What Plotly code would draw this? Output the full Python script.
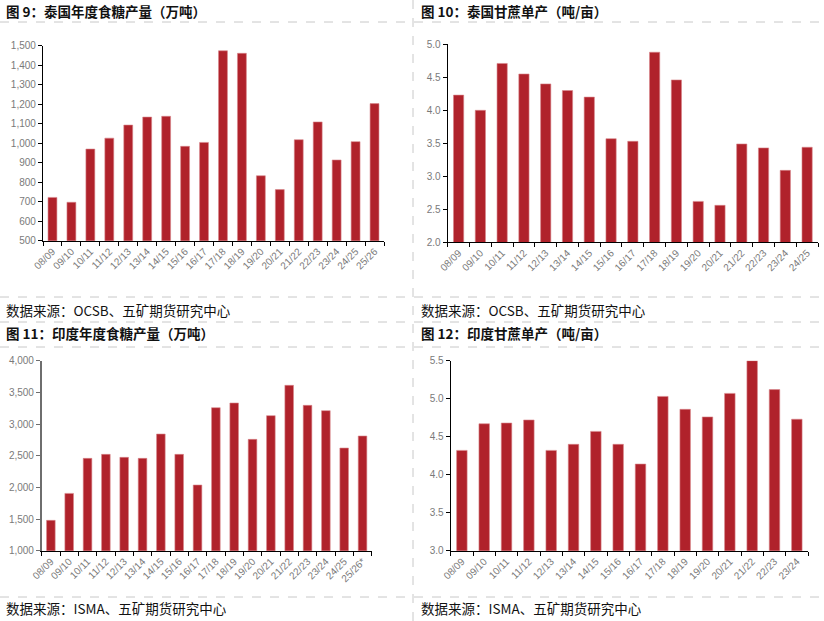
import plotly.graph_objects as go

W, H = 824, 621

# ---------------- data ----------------
th_sugar_seasons = ["08/09", "09/10", "10/11", "11/12", "12/13", "13/14", "14/15", "15/16", "16/17",
                    "17/18", "18/19", "19/20", "20/21", "21/22", "22/23", "23/24", "24/25", "25/26"]
th_sugar = [722, 697, 970, 1026, 1093, 1134, 1138, 984, 1004,
            1474, 1461, 833, 762, 1018, 1109, 914, 1008, 1203]

th_yield_seasons = ["08/09", "09/10", "10/11", "11/12", "12/13", "13/14", "14/15", "15/16", "16/17",
                    "17/18", "18/19", "19/20", "20/21", "21/22", "22/23", "23/24", "24/25"]
th_yield = [4.23, 4.00, 4.71, 4.55, 4.40, 4.30, 4.20, 3.57, 3.53,
            4.88, 4.46, 2.62, 2.56, 3.49, 3.43, 3.09, 3.44]

in_sugar_seasons = ["08/09", "09/10", "10/11", "11/12", "12/13", "13/14", "14/15", "15/16", "16/17",
                    "17/18", "18/19", "19/20", "20/21", "21/22", "22/23", "23/24", "24/25", "25/26*"]
in_sugar = [1479, 1905, 2458, 2521, 2474, 2458, 2842, 2521, 2037,
            3258, 3332, 2758, 3132, 3611, 3295, 3211, 2621, 2811]

in_yield_seasons = ["08/09", "09/10", "10/11", "11/12", "12/13", "13/14", "14/15", "15/16",
                    "16/17", "17/18", "18/19", "19/20", "20/21", "21/22", "22/23", "23/24"]
in_yield = [4.32, 4.67, 4.68, 4.72, 4.32, 4.40, 4.57, 4.40,
            4.14, 5.03, 4.86, 4.76, 5.07, 5.50, 5.12, 4.73]

titles = ["图 9：泰国年度食糖产量（万吨）", "图 10：泰国甘蔗单产（吨/亩）",
          "图 11：印度年度食糖产量（万吨）", "图 12：印度甘蔗单产（吨/亩）"]
sources = ["数据来源：OCSB、五矿期货研究中心", "数据来源：OCSB、五矿期货研究中心",
           "数据来源：ISMA、五矿期货研究中心", "数据来源：ISMA、五矿期货研究中心"]

y1_vals = list(range(500, 1501, 100))
y2_vals = [2.0, 2.5, 3.0, 3.5, 4.0, 4.5, 5.0]
y3_vals = list(range(1000, 4001, 500))
y4_vals = [3.0, 3.5, 4.0, 4.5, 5.0, 5.5]

# ---------------- style ----------------
BAR = "#B0222B"
TICKFONT = dict(family="Liberation Sans, Arial, sans-serif", size=10, color="#7a7a7a")
CJK = "Noto Sans CJK SC, sans-serif"
DASH = "#c8c8c8"


def xd(a, b):
    return [a / W, b / W]


def yd(top, bottom):
    return [1 - bottom / H, 1 - top / H]


panels = [
    dict(x=th_sugar_seasons, y=th_sugar, xdom=xd(43, 384), ydom=yd(45.7, 240.7),
         rng=[500, 1500], tv=y1_vals, tt=[f"{v:,}" for v in y1_vals], axcol="#000000"),
    dict(x=th_yield_seasons, y=th_yield, xdom=xd(447.7, 818), ydom=yd(44.3, 242.3),
         rng=[2.0, 5.0], tv=y2_vals, tt=[f"{v:.1f}" for v in y2_vals], axcol="#000000"),
    dict(x=in_sugar_seasons, y=in_sugar, xdom=xd(41.7, 371.7), ydom=yd(360.7, 550.7),
         rng=[1000, 4000], tv=y3_vals, tt=[f"{v:,}" for v in y3_vals], axcol="#6e6e6e"),
    dict(x=in_yield_seasons, y=in_yield, xdom=xd(450.7, 808), ydom=yd(360.7, 550.7),
         rng=[3.0, 5.5], tv=y4_vals, tt=[f"{v:.1f}" for v in y4_vals], axcol="#000000"),
]

fig = go.Figure()
layout = dict(
    width=W, height=H,
    margin=dict(l=0, r=0, t=0, b=0, autoexpand=False),
    paper_bgcolor="white", plot_bgcolor="white",
    showlegend=False, bargap=0.53,
)

for i, p in enumerate(panels, start=1):
    xa = "x" if i == 1 else f"x{i}"
    ya = "y" if i == 1 else f"y{i}"
    fig.add_trace(go.Bar(x=p["x"], y=p["y"], xaxis=xa, yaxis=ya,
                         marker=dict(color=BAR, line=dict(color="#d8868b", width=0.6)),
                         hoverinfo="x+y"))
    layout[f"xaxis{'' if i == 1 else i}"] = dict(
        domain=p["xdom"], anchor=ya, type="category", tickangle=-45, automargin=False,
        tickson="boundaries", ticks="outside", ticklen=4, tickcolor="#000000",
        showline=True, linecolor="#000000", linewidth=1.2, showgrid=False,
        tickfont=TICKFONT, zeroline=False, fixedrange=True,
    )
    layout[f"yaxis{'' if i == 1 else i}"] = dict(
        domain=p["ydom"], anchor=xa, range=p["rng"], tickvals=p["tv"], ticktext=p["tt"],
        automargin=False, ticks="outside", ticklen=4, tickcolor=p["axcol"],
        showline=True, linecolor=p["axcol"], linewidth=1.5 if i == 3 else 1.2,
        showgrid=False, zeroline=False, tickfont=TICKFONT, fixedrange=True,
    )

fig.update_layout(**layout)

# titles and sources
anns = []
title_pos = [(4, 11), (419, 11), (4, 333), (419, 333)]
src_pos = [(4, 310), (419, 310), (4, 608), (419, 608)]
for (x, y), t in zip(title_pos, titles):
    anns.append(dict(x=x / W, y=1 - y / H, xref="paper", yref="paper", xanchor="left", yanchor="middle",
                     text=f"<b>{t}</b>", showarrow=False,
                     font=dict(family=CJK, size=13.5, color="#111111")))
for (x, y), t in zip(src_pos, sources):
    anns.append(dict(x=x / W, y=1 - y / H, xref="paper", yref="paper", xanchor="left", yanchor="middle",
                     text=t, showarrow=False,
                     font=dict(family=CJK, size=13.5, color="#111111")))
fig.update_layout(annotations=anns)

# dashed separators
shapes = []
for yy in [22, 297, 322, 347, 597]:
    shapes.append(dict(type="line", xref="paper", yref="paper", x0=0, x1=1,
                       y0=1 - yy / H, y1=1 - yy / H, line=dict(color=DASH, width=1, dash="dash")))
shapes.append(dict(type="line", xref="paper", yref="paper", x0=413 / W, x1=413 / W,
                   y0=0, y1=1, line=dict(color=DASH, width=1, dash="dash")))
fig.update_layout(shapes=shapes)

fig.write_html("out.html")
